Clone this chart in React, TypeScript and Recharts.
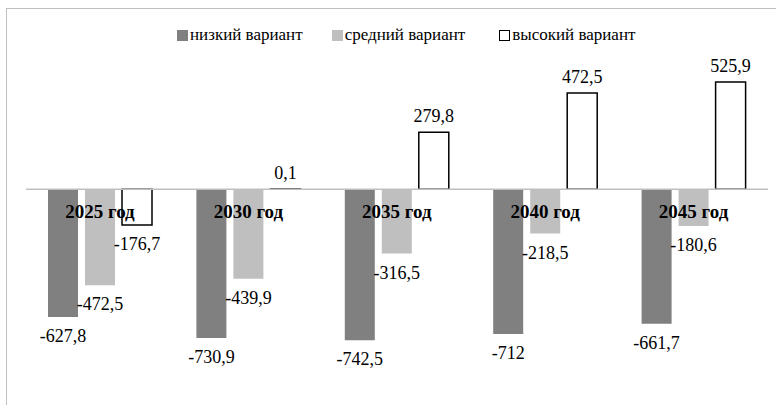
import React from 'react';
import { BarChart, Bar, XAxis, YAxis, ReferenceLine, LabelList } from 'recharts';

const years = ['2025 год', '2030 год', '2035 год', '2040 год', '2045 год'];
const lowVariant = [-627.8, -730.9, -742.5, -712, -661.7];
const midVariant = [-472.5, -439.9, -316.5, -218.5, -180.6];
const highVariant = [-176.7, 0.1, 279.8, 472.5, 525.9];

const seriesNames = ['низкий вариант', 'средний вариант', 'высокий вариант'];

const data = years.map((year, i) => ({
  year,
  low: lowVariant[i],
  mid: midVariant[i],
  high: highVariant[i],
}));

const FONT = '"Liberation Serif", "Times New Roman", monospace';

const fmt = (v: number) => String(v).replace('.', ',');

// value label: above the bar end for positives, below for negatives
const ValueLabel = (props: any) => {
  const { x, y, width, height, value } = props;
  const v = Number(value);
  const top = Math.min(y, y + height);
  const bottom = Math.max(y, y + height);
  const ty = v >= 0 ? top - 10 : bottom + 25;
  return (
    <text x={x + width / 2} y={ty} textAnchor="middle" fill="#000" fontFamily={FONT} fontSize={18}>
      {fmt(v)}
    </text>
  );
};

// category name drawn just under the zero line, centred on the middle bar
const YearLabel = (props: any) => {
  const { x, y, width, height, value } = props;
  const zero = Math.min(y, y + height);
  return (
    <text x={x + width / 2} y={zero + 29} textAnchor="middle" fill="#000" fontFamily={FONT} fontSize={19} fontWeight={700}>
      {value}
    </text>
  );
};

const legendItems = [
  { name: seriesNames[0], fill: '#808080', stroke: '#808080', gap: 29 },
  { name: seriesNames[1], fill: '#bfbfbf', stroke: '#bfbfbf', gap: 34 },
  { name: seriesNames[2], fill: '#ffffff', stroke: '#000000', gap: 0 },
];

export default function App() {
  return (
    <div style={{ position: 'absolute', left: 0, top: 0, width: 776, height: 405, overflow: 'hidden', background: '#fff', fontFamily: FONT }}>
      <div
        style={{
          position: 'absolute',
          left: 6,
          top: 8,
          width: 820,
          height: 520,
          border: '1px solid #bfbfbf',
          boxSizing: 'border-box',
        }}
      />
      <div
        style={{
          position: 'absolute',
          left: 177,
          top: 25,
          display: 'flex',
          alignItems: 'center',
          fontSize: 17,
          lineHeight: '20px',
          color: '#000',
          whiteSpace: 'nowrap',
        }}
      >
        {legendItems.map((it) => (
          <div key={it.name} style={{ display: 'flex', alignItems: 'center', marginRight: it.gap }}>
            <span
              style={{
                display: 'inline-block',
                width: 9,
                height: 9,
                background: it.fill,
                border: `1px solid ${it.stroke}`,
                marginRight: 2,
              }}
            />
            <span>{it.name}</span>
          </div>
        ))}
      </div>
      <div style={{ position: 'absolute', left: 0, top: 0 }}>
        <BarChart
          width={776}
          height={405}
          data={data}
          margin={{ top: 67, right: 8, bottom: 53, left: 26 }}
          barSize={30}
          barGap={7}
        >
          <XAxis dataKey="year" hide />
          <YAxis domain={[-800, 600]} hide />
          <ReferenceLine y={0} stroke="#bfbfbf" strokeWidth={1.5} />
          <Bar dataKey="low" name={seriesNames[0]} fill="#808080" isAnimationActive={false}>
            <LabelList dataKey="low" content={<ValueLabel />} />
          </Bar>
          <Bar dataKey="mid" name={seriesNames[1]} fill="#bfbfbf" isAnimationActive={false}>
            <LabelList dataKey="mid" content={<ValueLabel />} />
            <LabelList dataKey="year" content={<YearLabel />} />
          </Bar>
          <Bar dataKey="high" name={seriesNames[2]} fill="#ffffff" stroke="#000" strokeWidth={1.5} isAnimationActive={false}>
            <LabelList dataKey="high" content={<ValueLabel />} />
          </Bar>
        </BarChart>
      </div>
    </div>
  );
}
